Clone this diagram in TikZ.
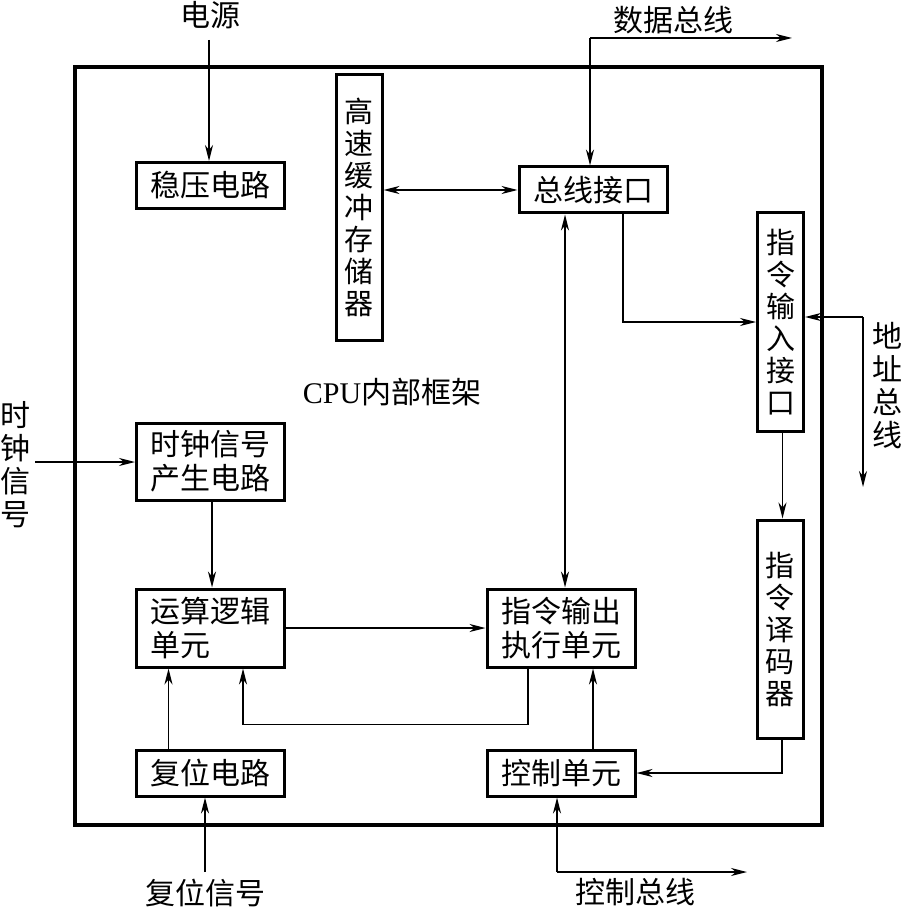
\documentclass[tikz,border=0pt]{standalone}
\usepackage{fontspec}
\setmainfont{Liberation Serif}
\newfontfamily\cjk{Noto Sans CJK SC}
\usetikzlibrary{positioning,arrows.meta,calc}

\begin{document}
\begin{tikzpicture}[
    x=1pt, y=-1pt,
    unit/.style={rectangle, draw=black, line width=3pt, minimum width=148pt, minimum height=46pt, inner sep=0pt, align=center, font=\cjk\fontsize{30}{34}\selectfont},
    tall/.style={rectangle, draw=black, line width=3pt, minimum width=46pt, minimum height=218pt, inner sep=0pt, align=center, font=\cjk\fontsize{29}{32}\selectfont},
    sig/.style={inner sep=0pt, align=center, font=\cjk\fontsize{30}{33}\selectfont},
    arrow/.style={-{Stealth[length=16pt, width=8pt, inset=5pt]}, line width=1.5pt},
    darrow/.style={{Stealth[length=16pt, width=8pt, inset=5pt]}-{Stealth[length=16pt, width=8pt, inset=5pt]}, line width=1.5pt},
]
\useasboundingbox (0,0) rectangle (902,909);

% CPU frame
\draw[line width=4pt] (75,67) rectangle (822,825);
\node[font=\fontsize{30}{33}\selectfont, inner sep=0pt] (cpu) at (392,392) {CPU\cjk 内部框架};

% units
\node[unit] (wenya) at (210.5,185.5) {稳压电路};
\node[tall, minimum height=265pt] (huancun) at (359,207.5) {高\\速\\缓\\冲\\存\\储\\器};
\node[unit] (zongxian) at (593,190) {总线接口};
\node[tall] (zlsr) at (780.5,322) {指\\令\\输\\入\\接\\口};
\node[tall] (ymq) at (780,629) {指\\令\\译\\码\\器};
\node[unit, minimum height=77pt] (shizhong) at (210.5,461.5) {时钟信号\\产生电路};
\node[unit, minimum height=78pt, align=left] (yunsuan) at (210.5,628) {运算逻辑\\单元\phantom{逻辑}};
\node[unit, minimum height=78pt] (zhixing) at (561,628) {指令输出\\执行单元};
\node[unit] (fuwei) at (210.5,773) {复位电路};
\node[unit] (kongzhi) at (561,773) {控制单元};

% outside signals
\node[sig] (dianyuan) at (210,15) {电源};
\node[sig] (shuju) at (673,20) {数据总线};
\node[sig] (dizhi) at (887,386) {地\\址\\总\\线};
\node[sig] (shizhongxh) at (15,465) {时\\钟\\信\\号};
\node[sig] (fuweixh) at (205,893) {复位信号};
\node[sig] (kongzhizx) at (635,892) {控制总线};

\coordinate (pw) at (209,40);
\coordinate (db) at (590,38);
\coordinate (dbend) at (792,38);
\coordinate (ab) at (863,317);
\coordinate (abend) at (863,487);
\coordinate (ck) at (35,462);
\coordinate (rs) at (205,872);
\coordinate (cb) at (557,872);
\coordinate (cbend) at (747,872);

% connectors
\draw[arrow] (pw) -- (pw |- wenya.north);
\draw[arrow] (db) -- (dbend);
\draw[arrow] (db) -- (db |- zongxian.north);
\draw[darrow] (zongxian.west) -- (zongxian.west -| huancun.east);
\draw[arrow] ([xshift=30pt]zongxian.south) |- (zlsr.west);
\draw[darrow] ([xshift=-28pt]zongxian.south) -- ([xshift=-28pt]zongxian.south |- zhixing.north);
\draw[arrow] (ab) -- (abend);
\draw[arrow] (ab) -- (ab -| zlsr.east);
\draw[arrow] ([xshift=2pt]zlsr.south) -- ([xshift=2pt]zlsr.south |- ymq.north);
\draw[arrow] ([xshift=2pt]ymq.south) |- (kongzhi.east);
\draw[arrow] ([xshift=32pt]kongzhi.north) -- ([xshift=32pt]zhixing.south);
\draw[arrow] (cb) -- (cbend);
\draw[arrow] (cb) -- (cb |- kongzhi.south);
\draw[arrow] (yunsuan.east) -- (zhixing.west);
\draw[arrow] ([xshift=-33pt]zhixing.south) -- ++(0,56) -| ([xshift=32.5pt]yunsuan.south);
\draw[arrow] ([xshift=-42pt]fuwei.north) -- ([xshift=-42pt]yunsuan.south);
\draw[arrow] (rs) -- (rs |- fuwei.south);
\draw[arrow] (ck) -- (ck -| shizhong.west);
\draw[arrow] ([xshift=1.5pt]shizhong.south) -- ([xshift=1.5pt]yunsuan.north);

\end{tikzpicture}
\end{document}
